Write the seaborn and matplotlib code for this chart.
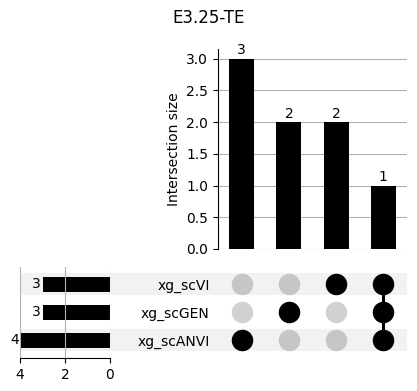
import matplotlib
matplotlib.use('Agg')
import matplotlib.pyplot as plt
import matplotlib.transforms as mtransforms
from matplotlib.patches import Rectangle
import seaborn as sns
import pandas as pd

# data
set_names = ['xg_scVI', 'xg_scGEN', 'xg_scANVI']
set_totals = [3, 3, 4]
inter_names = ['scANVI', 'scGEN', 'scVI', 'all']
inter_sizes = [3, 2, 2, 1]
# which sets take part in each intersection
inter_members = [['xg_scANVI'], ['xg_scGEN'], ['xg_scVI'],
                 ['xg_scVI', 'xg_scGEN', 'xg_scANVI']]

W, H = 417, 391
fig = plt.figure(figsize=(W / 100, H / 100), dpi=100)

ax_inter = fig.add_axes([218 / W, 1 - 249 / H, 189 / W, 200 / H])
ax_matrix = fig.add_axes([218 / W, 1 - 354 / H, 189 / W, 84 / H])
ax_totals = fig.add_axes([20 / W, 1 - 358 / H, 90 / W, 91 / H])

# intersection sizes
inter_df = pd.DataFrame({'inter': inter_names, 'size': inter_sizes})
ax_inter.set_axisbelow(True)
sns.barplot(data=inter_df, x='inter', y='size', color='black', width=0.53,
            saturation=1, linewidth=0, ax=ax_inter)
ax_inter.bar_label(ax_inter.containers[0], fontsize=10, padding=1)
ax_inter.set_xlim(-0.5, len(inter_names) - 0.5)
ax_inter.set_ylim(0, 3.15)
ax_inter.set_xlabel('')
ax_inter.set_ylabel('Intersection size', fontsize=10)
ax_inter.set_xticks([])
ax_inter.yaxis.grid(True, color='#b0b0b0', linewidth=0.8)
ax_inter.xaxis.grid(False)
for s in ['top', 'right', 'bottom']:
    ax_inter.spines[s].set_visible(False)

# set totals
tot_df = pd.DataFrame({'set': set_names, 'total': set_totals})
ax_totals.set_facecolor('none')
sns.barplot(data=tot_df, x='total', y='set', orient='h', color='black',
            width=0.56, saturation=1, linewidth=0, ax=ax_totals)
ax_totals.set_xlim(4, 0)
ax_totals.set_ylim(len(set_names) - 0.5 + 0.125, -0.5 - 0.125)
ax_totals.set_xticks([4, 2, 0])
ax_totals.bar_label(ax_totals.containers[0], fontsize=10, padding=1)
ax_totals.xaxis.grid(True, color='#b0b0b0', linewidth=0.8)
ax_totals.yaxis.grid(False)
ax_totals.set_axisbelow(False)
ax_totals.set_yticks([])
ax_totals.set_xlabel('')
ax_totals.set_ylabel('')
for s in ['top', 'right', 'left']:
    ax_totals.spines[s].set_visible(False)

# matrix of dots
ax_matrix.set_facecolor('none')
for i, members in enumerate(inter_members):
    rows = [set_names.index(m) for m in members]
    for j, name in enumerate(set_names):
        col = 'black' if name in members else (0, 0, 0, 0.18)
        ax_matrix.scatter(i, j, s=240, color=col, linewidths=0, zorder=3)
    if len(rows) > 1:
        ax_matrix.plot([i, i], [min(rows), max(rows)], color='black',
                       linewidth=2.2, zorder=2)
ax_matrix.set_xlim(-0.5, len(inter_names) - 0.5)
ax_matrix.set_ylim(len(set_names) - 0.5, -0.5)
ax_matrix.set_xticks([])
ax_matrix.set_yticks(range(len(set_names)))
ax_matrix.set_yticklabels(set_names, fontsize=10)
ax_matrix.tick_params(axis='y', length=0, pad=6)
for s in ax_matrix.spines.values():
    s.set_visible(False)

# shading for alternate rows, across totals, labels and matrix
trans = mtransforms.blended_transform_factory(fig.transFigure, ax_matrix.transData)
for j in range(0, len(set_names), 2):
    fig.add_artist(Rectangle((20 / W, j - 0.41), (407 - 20) / W, 0.82,
                             transform=trans, color=(0, 0, 0, 0.05),
                             linewidth=0, zorder=-1))

fig.suptitle('E3.25-TE', y=1 - 9 / H, va='top', fontsize=12)

plt.savefig('out.png', dpi=100)
